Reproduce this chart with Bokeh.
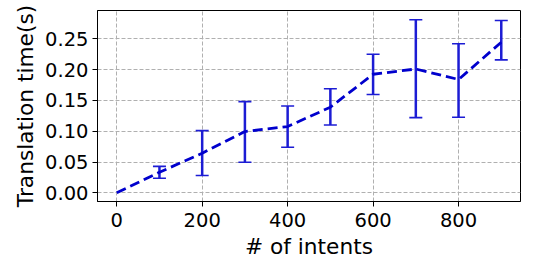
from bokeh.plotting import figure
from bokeh.models import ColumnDataSource, Whisker, TeeHead, Range1d, FixedTicker
from bokeh.embed import file_html
from bokeh.resources import INLINE

intents = [0, 100, 200, 300, 400, 500, 600, 700, 800, 900]
mean_time = [0.0, 0.0334, 0.0643, 0.0995, 0.1076, 0.139, 0.1925, 0.201, 0.184, 0.2445]
upper_time = [0.0, 0.043, 0.101, 0.148, 0.141, 0.169, 0.225, 0.281, 0.242, 0.2797]
lower_time = [0.0, 0.0237, 0.028, 0.0497, 0.074, 0.110, 0.1595, 0.122, 0.1227, 0.2158]

x_ticks = [0, 200, 400, 600, 800]
x_tick_labels = ["0", "200", "400", "600", "800"]
y_ticks = [0.0, 0.05, 0.10, 0.15, 0.20, 0.25]
y_tick_labels = ["0.00", "0.05", "0.10", "0.15", "0.20", "0.25"]

src = ColumnDataSource(dict(x=intents, y=mean_time, upper=upper_time, lower=lower_time))
err_src = ColumnDataSource(dict(x=intents[1:], upper=upper_time[1:], lower=lower_time[1:]))

p = figure(output_backend="svg", toolbar_location=None,
           x_range=Range1d(-45, 945), y_range=Range1d(-0.0141, 0.296),
           frame_width=423, frame_height=191,
           min_border_left=97, min_border_right=12, min_border_top=10, min_border_bottom=10)

p.background_fill_color = "white"
p.outline_line_color = "black"
p.outline_line_width = 1

err_color = "#1c1cd4"
w = Whisker(source=err_src, base="x", upper="upper", lower="lower",
            line_color=err_color, line_width=2.5,
            upper_head=TeeHead(size=13, line_color=err_color, line_width=1.6),
            lower_head=TeeHead(size=13, line_color=err_color, line_width=1.6))
p.add_layout(w)

p.line("x", "y", source=src, line_color="#0000cd", line_width=2.8, line_dash="10 5")

p.xaxis.ticker = FixedTicker(ticks=x_ticks)
p.yaxis.ticker = FixedTicker(ticks=y_ticks)
p.xaxis.major_label_overrides = {t: l for t, l in zip(x_ticks, x_tick_labels)}
p.yaxis.major_label_overrides = {t: l for t, l in zip(y_ticks, y_tick_labels)}

for ax in (p.xaxis, p.yaxis):
    ax.major_label_text_font = "DejaVu Sans"
    ax.major_label_text_font_size = "19.5px"
    ax.major_label_text_color = "black"
    ax.axis_label_text_font = "DejaVu Sans"
    ax.axis_label_text_font_size = "21.7px"
    ax.axis_label_text_font_style = "normal"
    ax.axis_label_text_color = "black"
    ax.axis_line_color = "black"
    ax.major_tick_line_color = "black"
    ax.major_tick_out = 5
    ax.major_tick_in = 0
    ax.minor_tick_line_color = None

p.xaxis.axis_label = "# of intents"
p.yaxis.axis_label = "Translation time(s)"
p.xaxis.major_label_standoff = 6
p.yaxis.major_label_standoff = 4
p.xaxis.axis_label_standoff = 4
p.yaxis.axis_label_standoff = 4

p.grid.grid_line_color = "#b0b0b0"
p.grid.grid_line_dash = "4 2"
p.grid.grid_line_width = 1

open("out.html", "w").write(file_html(p, INLINE))
